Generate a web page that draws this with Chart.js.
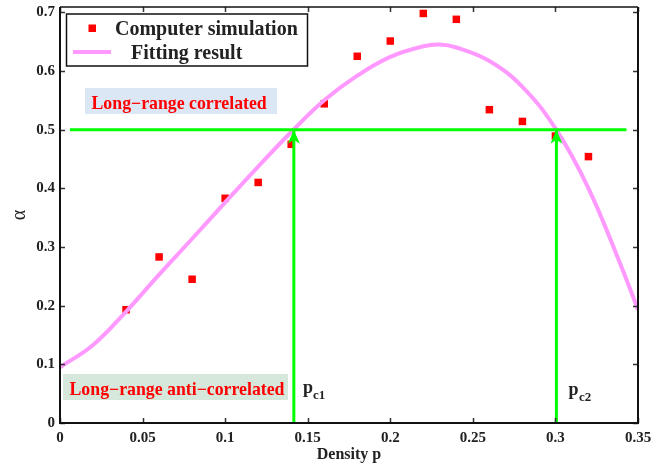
<!DOCTYPE html>
<html>
<head>
<meta charset="utf-8">
<script src="https://cdn.jsdelivr.net/npm/chart.js@4/dist/chart.umd.min.js"></script>
<style>
  html, body { margin: 0; padding: 0; background: #fff; }
  #wrap { width: 665px; height: 468px; }
</style>
</head>
<body>
<div id="wrap"><canvas id="chart"></canvas></div>
<script>
// simulation points
const simDensity = [0.04, 0.06, 0.08, 0.10, 0.12, 0.14, 0.16, 0.18, 0.20, 0.22, 0.24, 0.26, 0.28, 0.30, 0.32];
const simAlpha = [0.193, 0.283, 0.245, 0.383, 0.410, 0.475, 0.544, 0.625, 0.651, 0.698, 0.688, 0.534, 0.514, 0.489, 0.454];

// fitted curve
const fitDensity = [0, 0.02, 0.04, 0.06, 0.08, 0.10, 0.12, 0.14, 0.16, 0.18, 0.20, 0.22, 0.23, 0.24, 0.26, 0.28, 0.30, 0.32, 0.34, 0.35];
const fitAlpha = [0.095, 0.133, 0.190, 0.253, 0.314, 0.376, 0.437, 0.496, 0.550, 0.592, 0.624, 0.642, 0.645, 0.640, 0.617, 0.573, 0.502, 0.400, 0.266, 0.193];

// guide lines
const thresholdAlpha = 0.5;
const guideSpan = [0.006, 0.343];
const criticalDensity = [0.1416, 0.3006];

const xTicks = [0, 0.05, 0.1, 0.15, 0.2, 0.25, 0.3, 0.35];
const yTicks = [0, 0.1, 0.2, 0.3, 0.4, 0.5, 0.6, 0.7];

const serif = '"Liberation Serif", "Times New Roman", serif';
const green = '#00ff00';
const pink = '#ff99ff';

const guideDatasets = [
  {
    data: guideSpan.map((x) => ({ x, y: thresholdAlpha }))
  },
  ...criticalDensity.map((pc) => ({
    data: [{ x: pc, y: 0 }, { x: pc, y: thresholdAlpha }]
  }))
].map((d) => Object.assign(d, {
  showLine: true,
  borderColor: green,
  borderWidth: 3,
  pointRadius: 0,
  order: 0
}));

const decor = {
  id: 'decor',
  beforeDatasetsDraw(chart) {
    const ctx = chart.ctx;
    ctx.save();
    ctx.fillStyle = '#dce7f5';
    ctx.fillRect(85, 88, 192, 26);
    ctx.fillStyle = '#d6e8dc';
    ctx.fillRect(63, 374, 225, 26);
    ctx.font = 'bold 17.8px ' + serif;
    ctx.fillStyle = '#ff0000';
    ctx.textBaseline = 'alphabetic';
    ctx.fillText('Long\u2212range correlated', 91.5, 108.5);
    ctx.fillText('Long\u2212range anti\u2212correlated', 69.5, 394.5);
    ctx.restore();
  },
  afterDatasetsDraw(chart) {
    const ctx = chart.ctx;
    const { left, right, top, bottom } = chart.chartArea;
    const xs = chart.scales.x;
    const ys = chart.scales.y;
    ctx.save();

    // arrow heads
    ctx.fillStyle = green;
    criticalDensity.forEach((pc) => {
      const px = xs.getPixelForValue(pc);
      const py = ys.getPixelForValue(thresholdAlpha);
      ctx.beginPath();
      ctx.moveTo(px, py);
      ctx.lineTo(px + 6, py + 14);
      ctx.lineTo(px, py + 10);
      ctx.lineTo(px - 6, py + 14);
      ctx.closePath();
      ctx.fill();
    });

    // ticks pointing inward, mirrored
    ctx.strokeStyle = '#333';
    ctx.lineWidth = 1.5;
    ctx.beginPath();
    xTicks.forEach((v) => {
      const px = Math.round(xs.getPixelForValue(v)) + 0.5;
      ctx.moveTo(px, bottom); ctx.lineTo(px, bottom - 5);
      ctx.moveTo(px, top); ctx.lineTo(px, top + 5);
    });
    yTicks.forEach((v) => {
      const py = Math.round(ys.getPixelForValue(v)) + 0.5;
      ctx.moveTo(left, py); ctx.lineTo(left + 5, py);
      ctx.moveTo(right, py); ctx.lineTo(right - 5, py);
    });
    ctx.stroke();

    // frame
    ctx.strokeStyle = '#111';
    ctx.lineWidth = 2;
    ctx.beginPath();
    ctx.moveTo(left, top); ctx.lineTo(left, bottom); ctx.lineTo(right, bottom); ctx.lineTo(right, top);
    ctx.stroke();
    ctx.lineWidth = 1.5;
    ctx.beginPath();
    ctx.moveTo(left, top); ctx.lineTo(right, top);
    ctx.stroke();

    // legend
    ctx.fillStyle = '#fff';
    ctx.fillRect(66.5, 14, 241, 52);
    ctx.strokeStyle = '#111';
    ctx.lineWidth = 1.5;
    ctx.strokeRect(66.5, 14, 241, 52);
    ctx.fillStyle = '#ff0000';
    ctx.fillRect(88.5, 24.5, 7.5, 7.5);
    ctx.strokeStyle = pink;
    ctx.lineWidth = 4;
    ctx.beginPath();
    ctx.moveTo(73, 52); ctx.lineTo(111, 52);
    ctx.stroke();
    ctx.fillStyle = '#222';
    ctx.font = 'bold 20px ' + serif;
    ctx.fillText('Computer simulation', 115, 35);
    ctx.fillText('Fitting result', 131, 59);

    // critical density labels
    ctx.font = 'bold 18px ' + serif;
    ctx.fillText('p', 303, 393);
    ctx.fillText('p', 568.5, 395);
    ctx.font = 'bold 13px ' + serif;
    ctx.fillText('c1', 313, 399);
    ctx.fillText('c2', 579, 401);
    ctx.restore();
  }
};

new Chart(document.getElementById('chart'), {
  type: 'scatter',
  data: {
    datasets: [
      ...guideDatasets,
      {
        data: fitDensity.map((x, i) => ({ x, y: fitAlpha[i] })),
        showLine: true,
        borderColor: pink,
        borderWidth: 4,
        pointRadius: 0,
        tension: 0.4,
        order: 1
      },
      {
        data: simDensity.map((x, i) => ({ x, y: simAlpha[i] })),
        pointStyle: 'rect',
        pointRadius: 5.3,
        borderWidth: 0,
        backgroundColor: '#ff0000',
        order: 2
      }
    ]
  },
  plugins: [decor],
  options: {
    responsive: true,
    maintainAspectRatio: false,
    animation: false,
    layout: { padding: { top: 7, right: 27, left: 0, bottom: 0 } },
    plugins: { legend: { display: false }, tooltip: { enabled: false } },
    scales: {
      x: {
        type: 'linear',
        min: 0,
        max: 0.35,
        afterBuildTicks: (axis) => { axis.ticks = xTicks.map((value) => ({ value })); },
        afterFit: (axis) => { axis.height = 45; },
        grid: { display: false, drawTicks: false },
        border: { display: false },
        ticks: {
          autoSkip: false,
          maxRotation: 0,
          padding: 6,
          color: '#222',
          font: { family: serif, size: 15, weight: 'bold' },
          callback: (v) => String(v)
        },
        title: {
          display: true,
          text: 'Density p',
          color: '#222',
          padding: { top: 0, bottom: 4 },
          font: { family: serif, size: 16, weight: 'bold' }
        }
      },
      y: {
        min: 0,
        max: 0.709,
        afterBuildTicks: (axis) => { axis.ticks = yTicks.map((value) => ({ value })); },
        afterFit: (axis) => {
          axis.width = 60;
          axis.paddingTop = 0;
          axis.paddingBottom = 0;
        },
        grid: { display: false, drawTicks: false },
        border: { display: false },
        ticks: {
          autoSkip: false,
          padding: 5,
          color: '#222',
          font: { family: serif, size: 15, weight: 'bold' },
          callback: (v) => String(v)
        },
        title: {
          display: true,
          text: '\u03b1',
          color: '#222',
          padding: { top: 8, bottom: 0 },
          font: { family: serif, size: 20 }
        }
      }
    }
  }
});
</script>
</body>
</html>
